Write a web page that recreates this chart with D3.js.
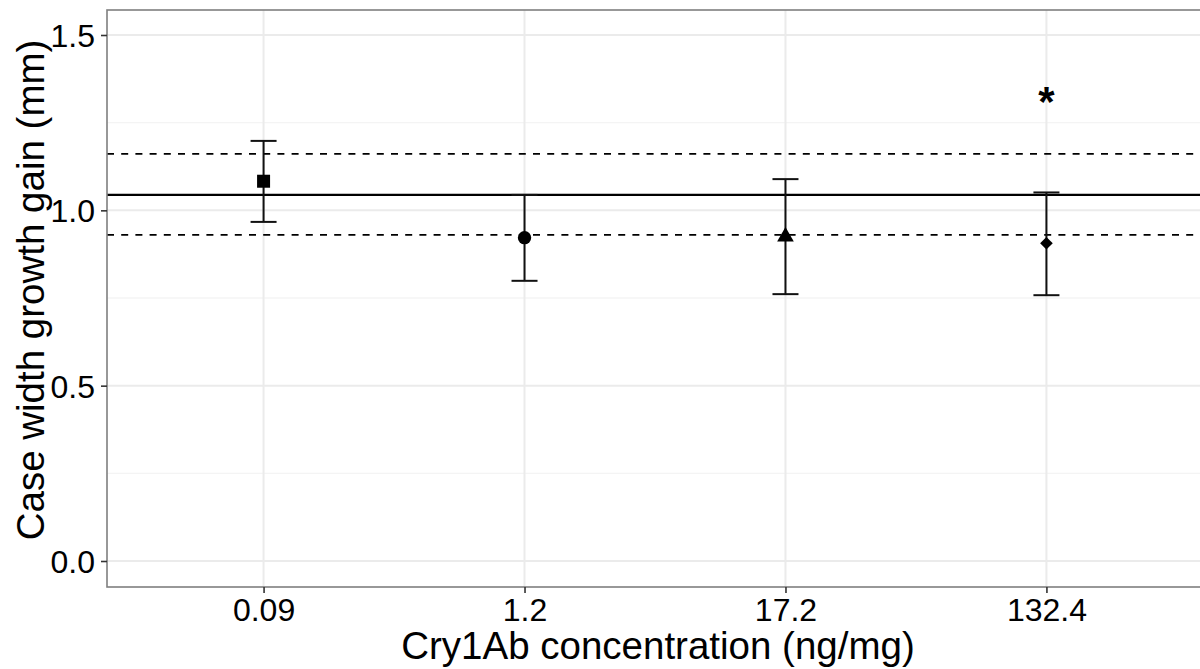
<!DOCTYPE html>
<html>
<head>
<meta charset="utf-8">
<script src="https://cdn.jsdelivr.net/npm/d3@7"></script>
<style>
  html, body { margin: 0; padding: 0; background: #fff; }
  svg { display: block; font-family: "Liberation Sans", Arial, sans-serif; }
</style>
</head>
<body>
<svg id="chart" width="1200" height="669"></svg>
<script>
// Concentrations tested (x categories)
const concentrations = ["0.09", "1.2", "17.2", "132.4"];
// Mean case width gain and error bar limits (mm)
const meanGain = [1.083, 0.922, 0.925, 0.906];
const lowerGain = [0.967, 0.799, 0.761, 0.758];
const upperGain = [1.198, 1.044, 1.089, 1.051];
// Point shape per concentration
const shapes = ["square", "circle", "triangle", "diamond"];
// Significance markers per concentration
const significance = ["", "", "", "*"];
const significanceY = [null, null, null, 1.32];
// Control reference: mean and its interval
const controlMean = [1.044];
const controlBand = [0.930, 1.161];
// Y axis ticks
const yMajorTicks = [0.0, 0.5, 1.0, 1.5];
const yMinorTicks = [0.25, 0.75, 1.25];
const yTickLabels = ["0.0", "0.5", "1.0", "1.5"];

const svg = d3.select("#chart");
const panel = { left: 107, top: 10, right: 1203, bottom: 587 };

const x = d3.scalePoint()
  .domain(concentrations)
  .range([panel.left, panel.right])
  .padding(0.6);

const y = d3.scaleLinear()
  .domain([0, 1.5])
  .range([561, 35]);

// Grid lines
const grid = svg.append("g");
grid.selectAll(".minor").data(yMinorTicks).join("line")
  .attr("x1", panel.left).attr("x2", panel.right)
  .attr("y1", d => y(d)).attr("y2", d => y(d))
  .attr("stroke", "#f4f4f4").attr("stroke-width", 1.3);
grid.selectAll(".majorY").data(yMajorTicks).join("line")
  .attr("x1", panel.left).attr("x2", panel.right)
  .attr("y1", d => y(d)).attr("y2", d => y(d))
  .attr("stroke", "#ebebeb").attr("stroke-width", 2);
grid.selectAll(".majorX").data(concentrations).join("line")
  .attr("x1", d => x(d)).attr("x2", d => x(d))
  .attr("y1", panel.top).attr("y2", panel.bottom)
  .attr("stroke", "#ebebeb").attr("stroke-width", 2);

// Control reference lines
svg.append("line")
  .attr("x1", panel.left).attr("x2", panel.right)
  .attr("y1", y(controlMean[0])).attr("y2", y(controlMean[0]))
  .attr("stroke", "#000").attr("stroke-width", 2.4);
svg.selectAll(".band").data(controlBand).join("line")
  .attr("x1", panel.left).attr("x2", panel.right)
  .attr("y1", d => y(d)).attr("y2", d => y(d))
  .attr("stroke", "#000").attr("stroke-width", 1.6)
  .attr("stroke-dasharray", "7,7.2");

// Error bars
const bars = svg.append("g").selectAll("g").data(concentrations).join("g");
const capHalf = 13;
bars.append("line")
  .attr("x1", d => x(d)).attr("x2", d => x(d))
  .attr("y1", (d, i) => y(lowerGain[i])).attr("y2", (d, i) => y(upperGain[i]))
  .attr("stroke", "#111").attr("stroke-width", 2);
bars.append("line")
  .attr("x1", d => x(d) - capHalf).attr("x2", d => x(d) + capHalf)
  .attr("y1", (d, i) => y(upperGain[i])).attr("y2", (d, i) => y(upperGain[i]))
  .attr("stroke", "#111").attr("stroke-width", 2);
bars.append("line")
  .attr("x1", d => x(d) - capHalf).attr("x2", d => x(d) + capHalf)
  .attr("y1", (d, i) => y(lowerGain[i])).attr("y2", (d, i) => y(lowerGain[i]))
  .attr("stroke", "#111").attr("stroke-width", 2);

// Point symbols
const diamond = {
  draw(ctx, size) {
    const r = Math.sqrt(size / 2);
    ctx.moveTo(0, -r); ctx.lineTo(r, 0); ctx.lineTo(0, r); ctx.lineTo(-r, 0); ctx.closePath();
  }
};
const symbolFor = {
  square: d3.symbol(d3.symbolSquare, 169),
  circle: d3.symbol(d3.symbolCircle, 140),
  triangle: d3.symbol(d3.symbolTriangle, 120),
  diamond: d3.symbol(diamond, 80)
};
svg.append("g").selectAll("path").data(concentrations).join("path")
  .attr("transform", (d, i) => `translate(${x(d)},${y(meanGain[i])})`)
  .attr("d", (d, i) => symbolFor[shapes[i]]())
  .attr("fill", "#000");

// Significance markers
svg.append("g").selectAll("text")
  .data(concentrations.filter((d, i) => significance[i]))
  .join("text")
  .attr("x", d => x(d))
  .attr("y", d => y(significanceY[concentrations.indexOf(d)]) + 18)
  .attr("text-anchor", "middle")
  .attr("font-size", 42).attr("font-weight", "bold")
  .text(d => significance[concentrations.indexOf(d)]);

// Panel border
svg.append("rect")
  .attr("x", panel.left).attr("y", panel.top)
  .attr("width", panel.right - panel.left).attr("height", panel.bottom - panel.top)
  .attr("fill", "none").attr("stroke", "#7f7f7f").attr("stroke-width", 1.6);

// Axes
const xAxis = svg.append("g")
  .attr("transform", `translate(0,${panel.bottom})`)
  .call(d3.axisBottom(x).tickSize(6).tickPadding(6));
const yAxis = svg.append("g")
  .attr("transform", `translate(${panel.left},0)`)
  .call(d3.axisLeft(y).tickValues(yMajorTicks).tickFormat((d, i) => yTickLabels[i]).tickSize(6).tickPadding(6));
[xAxis, yAxis].forEach(a => {
  a.select(".domain").remove();
  a.selectAll(".tick line").attr("stroke", "#333").attr("stroke-width", 1.6);
  a.selectAll(".tick text").attr("fill", "#000").attr("font-size", 32)
    .attr("font-family", "'Liberation Sans', Arial, sans-serif");
});
xAxis.selectAll(".tick text").attr("dy", "0.68em");
yAxis.selectAll(".tick text").attr("dy", "0.36em");

// Axis titles
svg.append("text")
  .attr("x", 658).attr("y", 659)
  .attr("text-anchor", "middle").attr("font-size", 38.5).attr("fill", "#000")
  .text("Cry1Ab concentration (ng/mg)");
svg.append("text")
  .attr("transform", "translate(44,290) rotate(-90)")
  .attr("text-anchor", "middle").attr("font-size", 38.5).attr("fill", "#000")
  .text("Case width growth gain (mm)");
</script>
</body>
</html>
